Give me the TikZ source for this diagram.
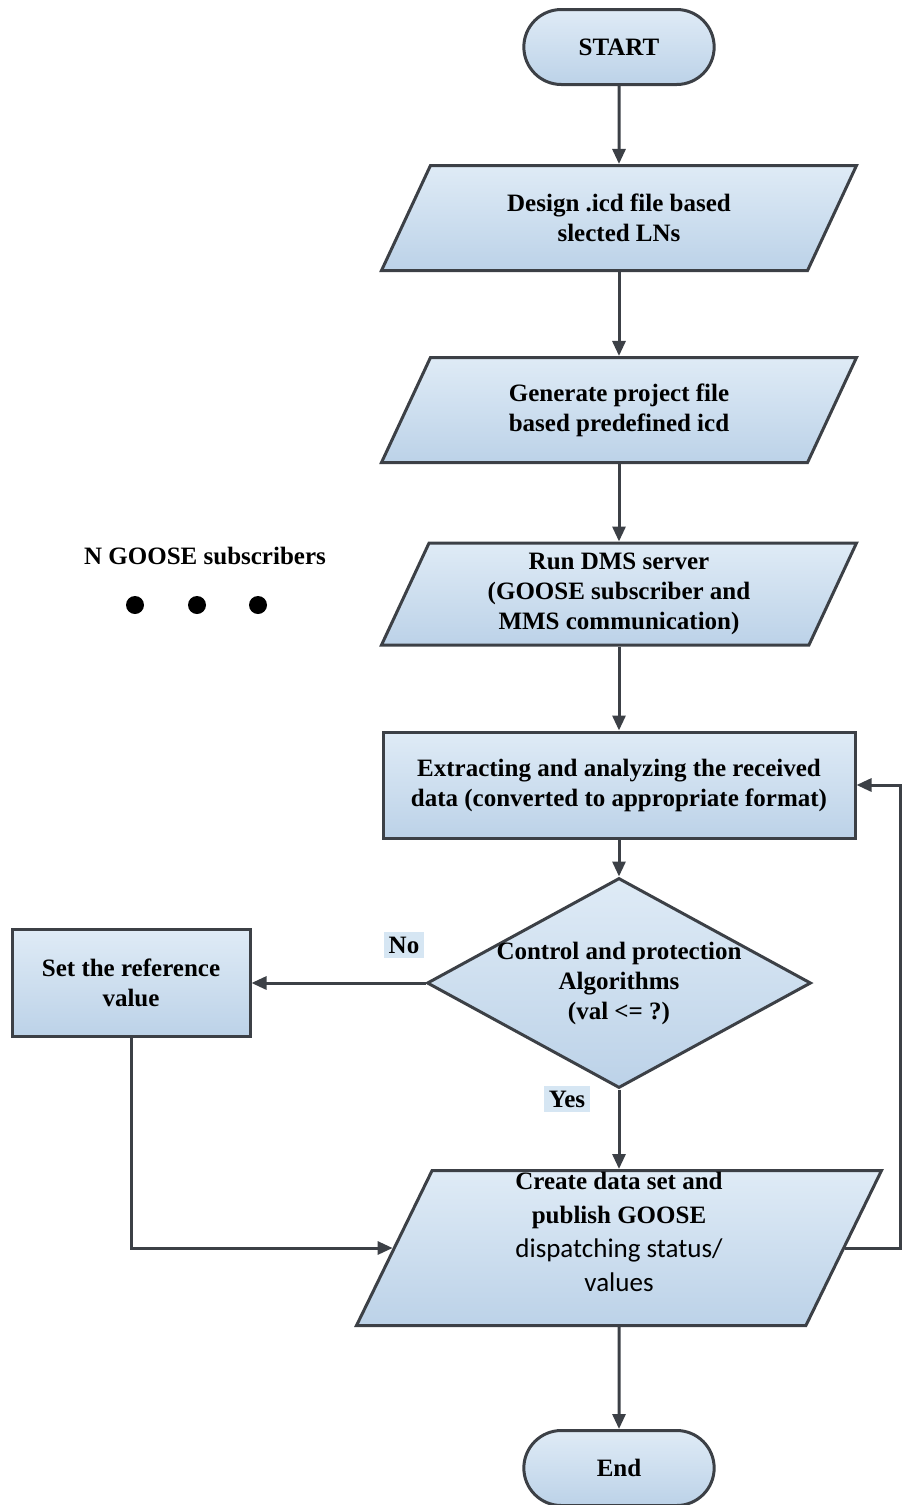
\documentclass[tikz,border=0pt]{standalone}
\usepackage{fontspec}
\setmainfont{Liberation Serif}
\newfontfamily\calib{Carlito}
\usetikzlibrary{shapes.geometric,shapes.misc,arrows.meta}
\definecolor{boxtop}{RGB}{223,235,246}
\definecolor{boxbot}{RGB}{188,210,232}
\definecolor{edgegray}{RGB}{60,64,70}
\definecolor{lblblue}{RGB}{214,230,243}

\begin{document}
\begin{tikzpicture}[
x = 1pt, y = -1pt,
font = \bfseries\fontsize{25}{30}\selectfont,
termrect/.style={rounded rectangle, draw = edgegray, line width = 3pt,
top color = boxtop, bottom color = boxbot, minimum width = 197pt, minimum height = 75pt},
iorect/.style={trapezium, trapezium left angle = 65, trapezium right angle = 115,
trapezium stretches body, inner xsep = 0pt, inner ysep = 52.5pt, draw = edgegray, line width = 3pt,
top color = boxtop, bottom color = boxbot, minimum width = 475pt},
procrect/.style={rectangle, align = center, draw = edgegray, line width = 3pt,
top color = boxtop, bottom color = boxbot},
decrect/.style={diamond, draw = edgegray, line width = 3pt, inner sep = 0pt,
top color = boxtop, bottom color = boxbot, minimum width = 384pt, minimum height = 210pt},
flowarr/.style={>={Triangle[length = 15pt, width = 13pt]}, ->, line width = 3pt, draw = edgegray},
yesno/.style={fill = lblblue, inner sep = 5pt},
dot/.style={circle, fill = black, inner sep = 0pt, minimum size = 18pt},
calibline/.style={font = \calib\mdseries\fontsize{27}{34}\selectfont}]

\useasboundingbox (0,0) rectangle (902,1505);

\node[termrect] (start) at (619,47) {START};
\node[iorect] (design) at (619,218) {};
\node[align = center] (designtxt) at (design) {Design .icd file based\\slected LNs};
\node[iorect] (gen) at (619,410) {};
\node[align = center] (gentxt) at (gen) {Generate project file\\based predefined icd};
\node[iorect, inner ysep = 51pt] (run) at (619,594) {};
\node[align = center] (runtxt) at (run) {Run DMS server\\(GOOSE subscriber and\\MMS communication)};
\node[procrect, minimum width = 472pt, minimum height = 106pt] (extr) at (619,785)
{Extracting and analyzing the received\\data (converted to appropriate format)};
\node[decrect] (ctrl) at (619,983) {};
\node[align = center] (ctrltxt) at (ctrl) {Control and protection\\Algorithms\\(val <= ?)};
\node[procrect, minimum width = 238pt, minimum height = 107pt] (ref) at (131,983)
{Set the reference\\value};
\node[iorect, trapezium left angle = 64, trapezium right angle = 116,
inner ysep = 77.5pt, minimum width = 525pt] (create) at (619,1248) {};
\node[align = center, font = \bfseries\fontsize{25}{34}\selectfont] (createtxt) at (619,1232)
{Create data set and\\publish GOOSE\\\calib\mdseries\fontsize{27}{34}\selectfont dispatching status/\\\calib\mdseries\fontsize{27}{34}\selectfont values};
\node[termrect] (end) at (619,1468) {End};

% subscribers
\node (ngoose) at (205,556) {N GOOSE subscribers};
\node[dot] (d1) at (135,605) {};
\node[dot] (d2) at (197,605) {};
\node[dot] (d3) at (258,605) {};

\node[yesno] (no) at (404,945) {No};
\node[yesno] (yes) at (567,1099) {Yes};

\draw[flowarr] (start) -- (design);
\draw[flowarr] (design) -- (gen);
\draw[flowarr] (gen) -- (run);
\draw[flowarr] (run) -- (extr);
\draw[flowarr] (extr) -- (ctrl);
\draw[flowarr] (ctrl.west) -- (ref.east);
\draw[flowarr] (ctrl.south) -- (create);
\draw[flowarr] (ref.south) |- (create);
\coordinate (fb) at (900,1248);
\draw[flowarr] (create) -- (fb) |- (extr);
\draw[flowarr] (create) -- (end);

\end{tikzpicture}
\end{document}
